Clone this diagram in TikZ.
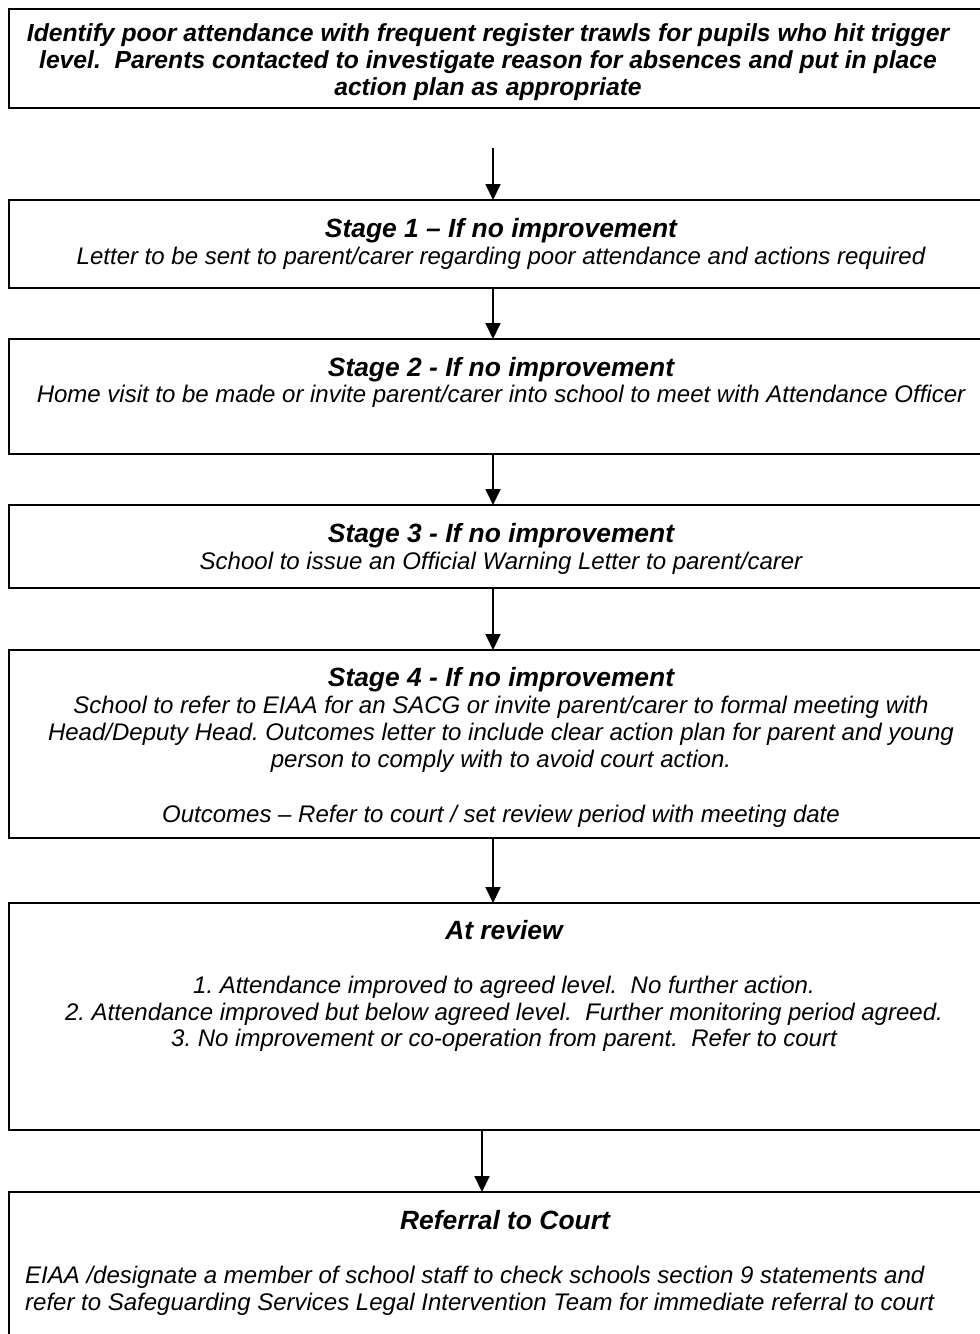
\documentclass[tikz,border=0pt]{standalone}
\usepackage{fontspec}
\setmainfont{Liberation Sans}
\usetikzlibrary{arrows.meta}
\frenchspacing
\begin{document}
\begin{tikzpicture}[x=1pt,y=-1pt,
  box/.style={draw=black,line width=1.6pt,inner sep=0pt,outer sep=0pt,anchor=north west,minimum width=990pt},
  head/.style={font=\fontsize{26.4}{30}\selectfont\bfseries\itshape,anchor=base,inner sep=0pt},
  body/.style={font=\fontsize{24}{27}\selectfont\itshape,anchor=base,inner sep=0pt},
  bbody/.style={font=\fontsize{24.7}{27}\selectfont\bfseries\itshape,anchor=base,inner sep=0pt},
  lbody/.style={font=\fontsize{24}{27}\selectfont\itshape,anchor=base west,inner sep=0pt},
  arr/.style={line width=1.8pt,-{Triangle[width=15pt,length=16pt]}}]
\useasboundingbox (0,0) rectangle (980,1334);
\fill[white] (0,0) rectangle (980,1334);
\clip (0,0) rectangle (980,1334);
% boxes
\node[box,minimum height=99pt]  (b0) at (9,9) {};
\node[box,minimum height=88pt]  (b1) at (9,200) {};
\node[box,minimum height=115pt] (b2) at (9,339) {};
\node[box,minimum height=83pt]  (b3) at (9,505) {};
\node[box,minimum height=188pt] (b4) at (9,650) {};
\node[box,minimum height=227pt] (b5) at (9,903) {};
\node[box,minimum height=170pt] (b6) at (9,1192) {};
% arrow positions
\coordinate (ax) at (493,0);
\coordinate (ay) at (482,0);
\coordinate (a0) at (493,148);
\draw[arr] (a0) -- (a0 |- b1.north);
\draw[arr] (b1.south -| ax) -- (b2.north -| ax);
\draw[arr] (b2.south -| ax) -- (b3.north -| ax);
\draw[arr] (b3.south -| ax) -- (b4.north -| ax);
\draw[arr] (b4.south -| ax) -- (b5.north -| ax);
\draw[arr] (b5.south -| ay) -- (b6.north -| ay);
% texts
\node[bbody] (t01) at (488,41) {Identify poor attendance with frequent register trawls for pupils who hit trigger};
\node[bbody] (t02) at (488,68) {level.\ \ Parents contacted to investigate reason for absences and put in place};
\node[bbody] (t03) at (488,95) {action plan as appropriate};

\node[head] (t11) at (501,237) {Stage 1 – If no improvement};
\node[body] (t12) at (501,264) {Letter to be sent to parent/carer regarding poor attendance and actions required};

\node[head] (t21) at (501,376) {Stage 2 - If no improvement};
\node[body] (t22) at (501,402) {Home visit to be made or invite parent/carer into school to meet with Attendance Officer};

\node[head] (t31) at (501,542) {Stage 3 - If no improvement};
\node[body] (t32) at (501,569) {School to issue an Official Warning Letter to parent/carer};

\node[head] (t41) at (501,686) {Stage 4 - If no improvement};
\node[body] (t42) at (501,713) {School to refer to EIAA for an SACG or invite parent/carer to formal meeting with};
\node[body] (t43) at (501,740) {Head/Deputy Head. Outcomes letter to include clear action plan for parent and young};
\node[body] (t44) at (501,767) {person to comply with to avoid court action.};
\node[body] (t45) at (501,822) {Outcomes – Refer to court / set review period with meeting date};

\node[head] (t51) at (504,939) {At review};
\node[body] (t52) at (504,993) {1. Attendance improved to agreed level.\ \ No further action.};
\node[body] (t53) at (504,1020) {2. Attendance improved but below agreed level.\ \ Further monitoring period agreed.};
\node[body] (t54) at (504,1046) {3. No improvement or co-operation from parent.\ \ Refer to court};

\node[head] (t61) at (505,1229) {Referral to Court};
\node[lbody] (t62) at (25,1283) {EIAA /designate a member of school staff to check schools section 9 statements and};
\node[lbody] (t63) at (25,1310) {refer to Safeguarding Services Legal Intervention Team for immediate referral to court};
\end{tikzpicture}
\end{document}
